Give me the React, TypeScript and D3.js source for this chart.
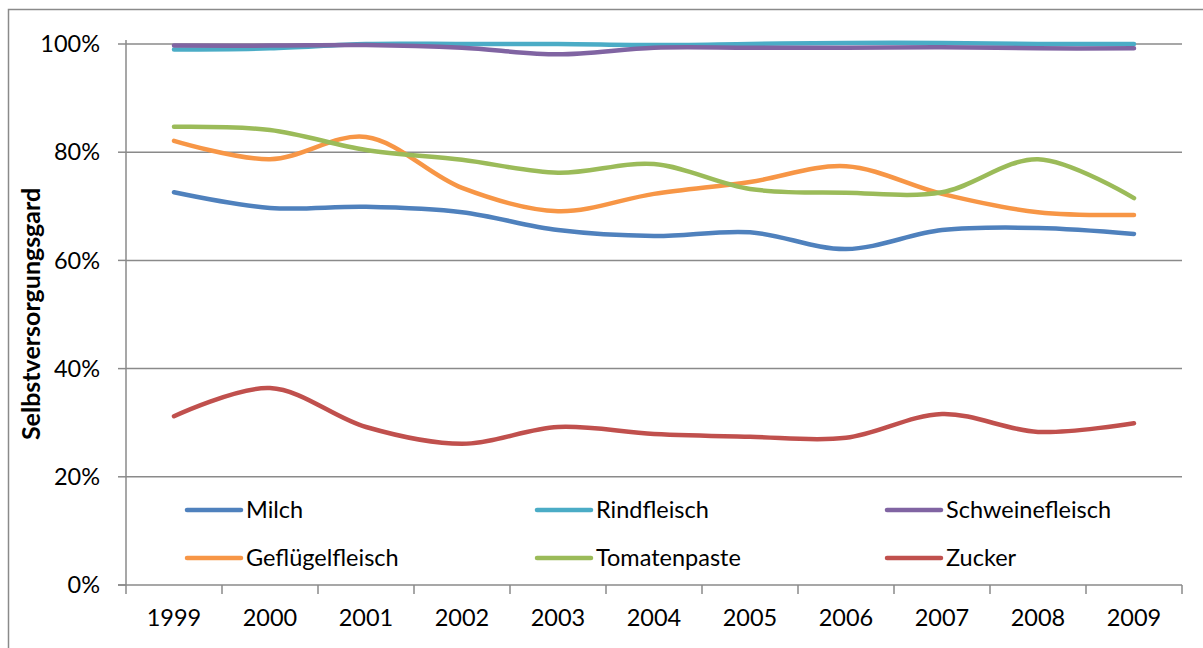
import * as d3 from "d3";

const years = ["1999", "2000", "2001", "2002", "2003", "2004", "2005", "2006", "2007", "2008", "2009"];
const yTicks = [0, 0.2, 0.4, 0.6, 0.8, 1.0];

const milch = [0.726, 0.697, 0.699, 0.689, 0.656, 0.645, 0.652, 0.621, 0.656, 0.660, 0.649];
const rindfleisch = [0.990, 0.992, 1.0, 1.0, 1.0, 0.998, 1.0, 1.002, 1.002, 1.0, 1.0];
const schweinefleisch = [0.997, 0.997, 0.998, 0.993, 0.981, 0.993, 0.993, 0.993, 0.994, 0.992, 0.992];
const gefluegel = [0.821, 0.787, 0.828, 0.734, 0.691, 0.723, 0.745, 0.774, 0.723, 0.689, 0.684];
const tomatenpaste = [0.847, 0.841, 0.804, 0.786, 0.762, 0.778, 0.732, 0.725, 0.726, 0.787, 0.715];
const zucker = [0.312, 0.364, 0.292, 0.261, 0.292, 0.279, 0.274, 0.272, 0.316, 0.283, 0.299];

const series = [
    { name: "Milch", values: milch, color: "#4F81BD" },
    { name: "Rindfleisch", values: rindfleisch, color: "#4BACC6" },
    { name: "Schweinefleisch", values: schweinefleisch, color: "#8064A2" },
    { name: "Geflügelfleisch", values: gefluegel, color: "#F79646" },
    { name: "Tomatenpaste", values: tomatenpaste, color: "#9BBB59" },
    { name: "Zucker", values: zucker, color: "#C0504D" },
];

const W = 1203, H = 648;
const margin = { left: 126, right: 21, top: 44, bottom: 63 };
const font = "Lato, 'Open Sans', sans-serif";
const gray = "#8a8a8a";

export default function App() {
    const x = d3.scaleBand<string>().domain(years).range([margin.left, W - margin.right]).padding(0);
    const y = d3.scaleLinear().domain([0, 1]).range([H - margin.bottom, margin.top]);
    const cx = (yr: string) => (x(yr) as number) + x.bandwidth() / 2;
    const line = d3.line<number>()
        .x((_, i) => cx(years[i]))
        .y(d => y(d))
        .curve(d3.curveCatmullRom.alpha(0.5));

    const x0 = margin.left, x1 = W - margin.right, yb = y(0);
    const boundaries = years.map(yr => x(yr) as number).concat([x1]);

    // legend: 3 columns x 2 rows
    const legendX = [187, 537, 887];
    const legendY = [510, 558];

    return (
        <svg width={W} height={H} style={{ position: "absolute", left: 0, top: 0, background: "#fff" }}>
            <rect x={8.5} y={9.5} width={1200} height={645} fill="#fff" stroke="#8a8a8a" strokeWidth={1.5} />
            {/* gridlines */}
            {yTicks.filter(t => t > 0).map(t => (
                <line key={t} x1={x0} x2={x1} y1={y(t)} y2={y(t)} stroke={gray} strokeWidth={1.5} />
            ))}
            {/* y axis */}
            <line x1={x0} x2={x0} y1={y(1) - 4} y2={yb} stroke={gray} strokeWidth={1.5} />
            {yTicks.map(t => (
                <g key={"yt" + t}>
                    <line x1={x0 - 8} x2={x0} y1={y(t)} y2={y(t)} stroke={gray} strokeWidth={1.5} />
                    <text x={100} y={y(t)} dy="0.35em" textAnchor="end" fontFamily={font} fontSize={23.5} fill="#000">
                        {d3.format(".0%")(t)}
                    </text>
                </g>
            ))}
            {/* x axis */}
            <line x1={x0 - 8} x2={x1} y1={yb} y2={yb} stroke={gray} strokeWidth={1.5} />
            {boundaries.map((bx, i) => (
                <line key={"xt" + i} x1={bx} x2={bx} y1={yb} y2={yb + 9} stroke={gray} strokeWidth={1.5} />
            ))}
            {years.map(yr => (
                <text key={yr} x={cx(yr)} y={626} textAnchor="middle" fontFamily={font} fontSize={23.5} fill="#000">{yr}</text>
            ))}
            {/* y title */}
            <text transform={`translate(40,${314}) rotate(-90)`} textAnchor="middle" fontFamily={font} fontSize={25} fontWeight="bold" fill="#000">
                Selbstversorgungsgard
            </text>
            {/* series */}
            {series.map(s => (
                <path key={s.name} d={line(s.values) as string} fill="none" stroke={s.color} strokeWidth={4.5} strokeLinecap="round" strokeLinejoin="round" />
            ))}
            {/* legend */}
            {series.map((s, i) => {
                const lx = legendX[i % 3], ly = legendY[Math.floor(i / 3)];
                return (
                    <g key={"lg" + s.name}>
                        <line x1={lx} x2={lx + 54} y1={ly} y2={ly} stroke={s.color} strokeWidth={4.5} strokeLinecap="round" />
                        <text x={lx + 59} y={ly} dy="0.35em" fontFamily={font} fontSize={23.5} fill="#000">{s.name}</text>
                    </g>
                );
            })}
        </svg>
    );
}
